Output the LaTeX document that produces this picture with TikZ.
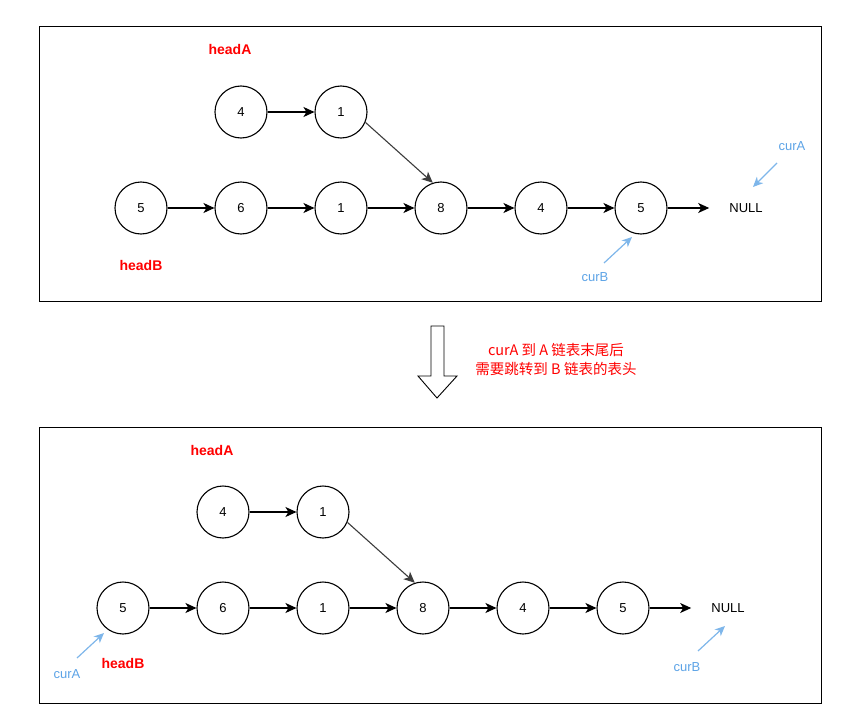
\documentclass[tikz,border=0pt]{standalone}
\usepackage{fontspec}
\setmainfont{Liberation Sans}
\newfontfamily\cjk{Noto Sans CJK SC}
\usetikzlibrary{arrows.meta}
\definecolor{ptr-blue}{RGB}{92,163,230}
\definecolor{ptr-blue1}{RGB}{126,182,234}
\definecolor{link-gray}{RGB}{60,60,60}
\tikzset{
	cell/.style={draw,circle,line width=1.1pt,minimum size=52pt,inner sep=0pt,font=\fontsize{13}{15}\selectfont},
	link/.style={line width=1.1pt,-{Stealth[length=11pt,width=10pt,inset=3pt]}},
	ptr/.style={ptr-blue1,line width=1.2pt,-{Stealth[length=10pt,width=9pt,inset=3pt]}},
	headlbl/.style={text=red,font=\fontsize{14}{16}\selectfont\bfseries},
	curlbl/.style={text=ptr-blue,font=\fontsize{13}{15}\selectfont},
	frame/.style={line width=0.8pt},
}
\newcommand{\twolists}[3]{
	
	\begin{scope}[shift={(#1,#2)}]
		\node [cell] (#3a1) at (241,112) {4};
		\node [cell] (#3a2) at (341,112) {1};
		\foreach \v [count=\i] in {5,6,1,8,4,5}{
			\node [cell] (#3b\i) at (41+100*\i,208) {\v};
		}
		\node [font=\fontsize{13}{15}\selectfont,inner sep=0pt] (#3null) at (746,208) {NULL};
		\draw [link] (#3a1) -- (#3a2);
		\draw [link,link-gray] (#3a2.-23) -- (#3b4.108);
		\foreach \i/\j in {1/2,2/3,3/4,4/5,5/6}{
			\draw [link] (#3b\i) -- (#3b\j);
		}
		\draw [link,shorten >=20pt] (#3b6) -- (#3null.west);
	\end{scope}
}
\begin{document}
\begin{tikzpicture}[x=1pt,y=-1pt]
\useasboundingbox (0,0) rectangle (863,725);
% before
\draw [frame] (39,26) rectangle (821,301);
\twolists{0}{0}{t}
\node [headlbl] (theadA) at (230,49) {headA};
\node [headlbl] (theadB) at (141,265) {headB};
\node [curlbl] (tcurA) at (792,146) {curA};
\node [curlbl] (tcurB) at (595,277) {curB};
\coordinate (tcurAs) at (777,163);
\coordinate (tcurAe) at (753,187);
\coordinate (tcurBs) at (604,263);
\coordinate (tcurBe) at (632,237);
\draw [ptr] (tcurAs) -- (tcurAe);
\draw [ptr] (tcurBs) -- (tcurBe);
% jump
\draw [line width=0.9pt] (431,326) -- (444,326) -- (444,376) -- (457,376) -- (437,398)
	-- (418,376) -- (431,376) -- cycle;
\node [text=red,align=center,font=\cjk\fontsize{14.5}{19}\selectfont] (note) at (556,359)
	{curA 到 A 链表末尾后\\需要跳转到 B 链表的表头};
% after
\draw [frame] (39,427) rectangle (821,703);
\twolists{-18}{400}{u}
\node [headlbl] (uheadA) at (212,450) {headA};
\node [headlbl] (uheadB) at (123,663) {headB};
\node [curlbl] (ucurA) at (67,674) {curA};
\node [curlbl] (ucurB) at (687,667) {curB};
\coordinate (ucurAs) at (77,658);
\coordinate (ucurAe) at (104,633);
\coordinate (ucurBs) at (698,651);
\coordinate (ucurBe) at (725,626);
\draw [ptr] (ucurAs) -- (ucurAe);
\draw [ptr] (ucurBs) -- (ucurBe);
\end{tikzpicture}
\end{document}
